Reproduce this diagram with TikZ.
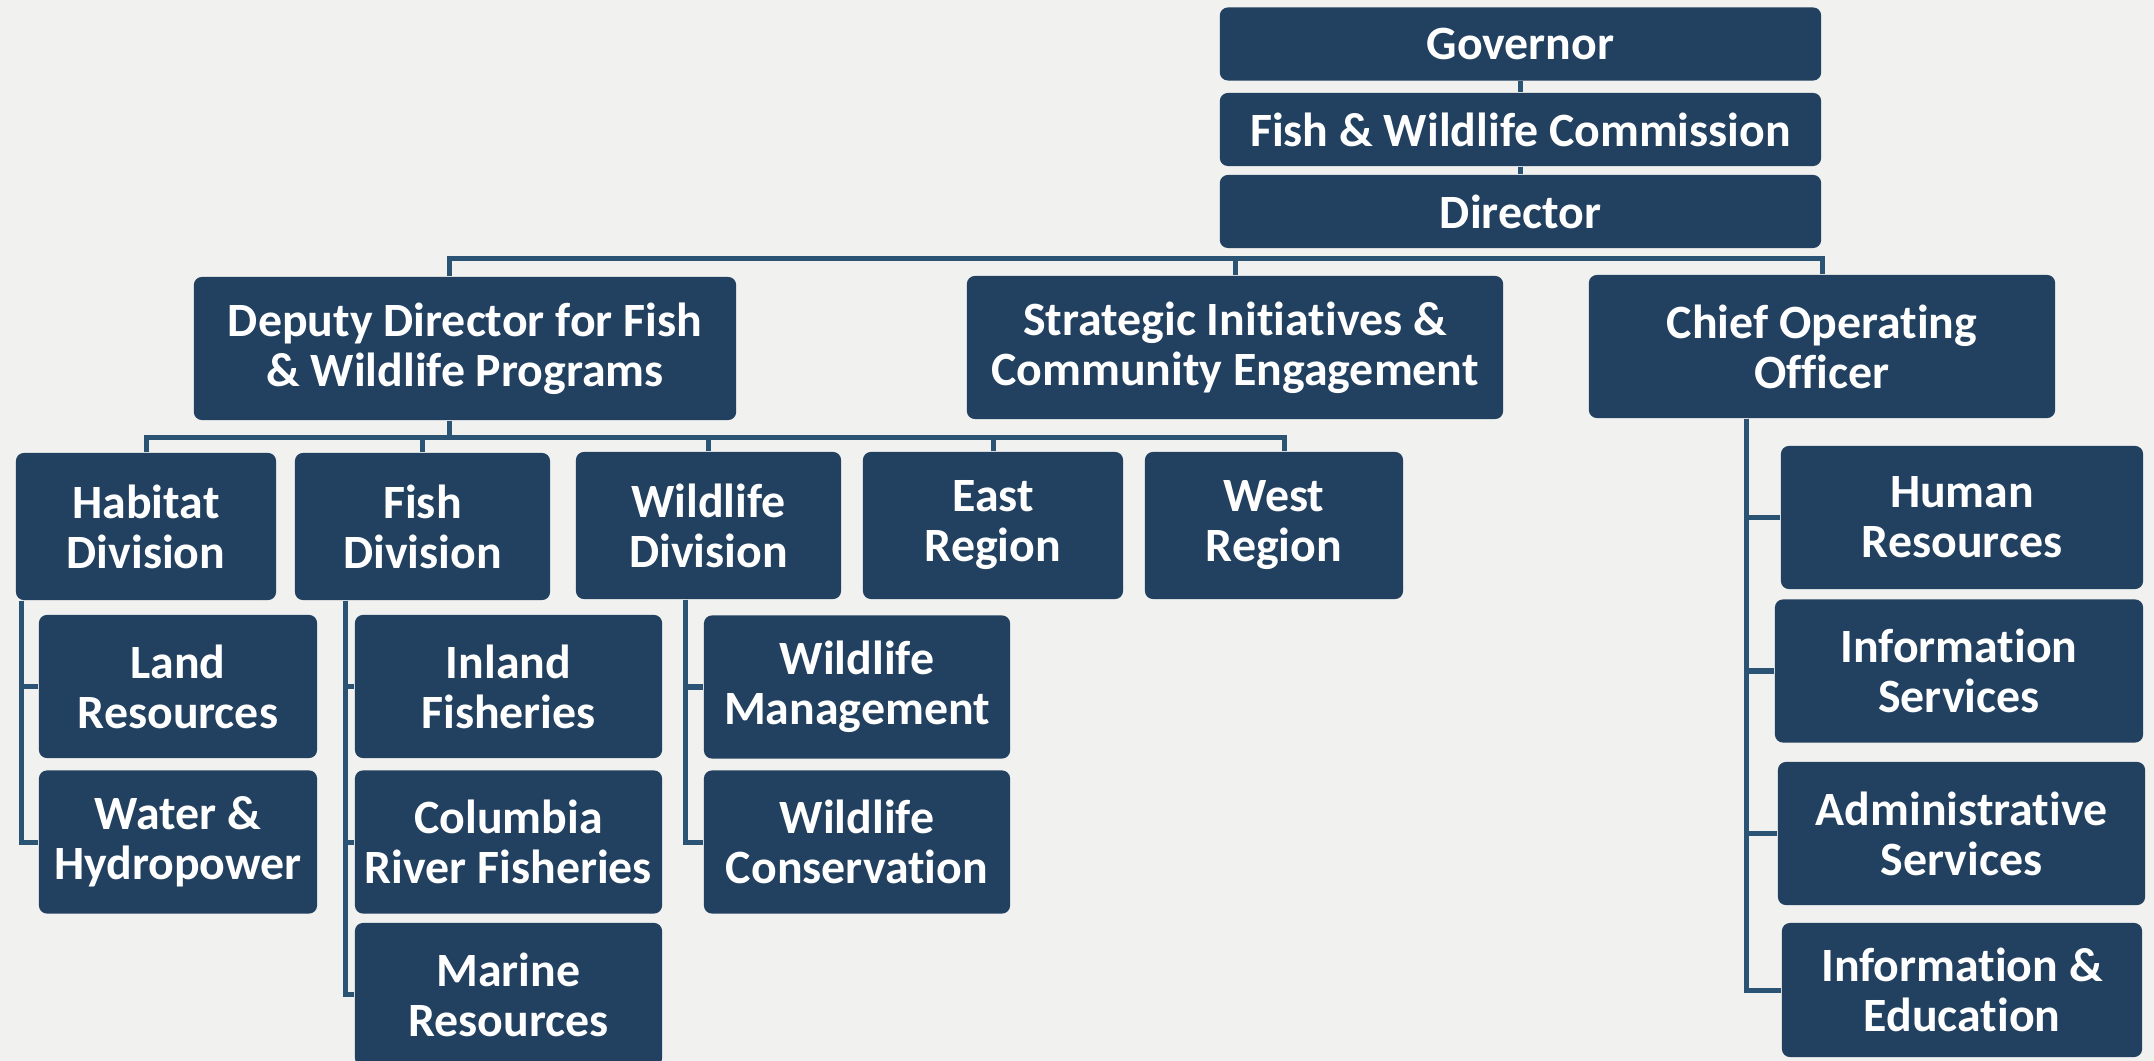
\documentclass[tikz,border=0pt]{standalone}
\usepackage{fontspec}
\setmainfont{Carlito}[Ligatures=NoCommon]
\usepackage{tikz}
\definecolor{paper}{HTML}{F1F1F0}
\definecolor{boxblue}{HTML}{22405F}
\definecolor{lineblue}{HTML}{2B5374}
\newcommand{\orgfont}{\bfseries\fontsize{13.6pt}{14.2pt}\selectfont}
\tikzset{
box/.style={
  rectangle,
  rounded corners=0.08cm,
  fill=boxblue,
  text=white,
  font=\orgfont,
  align=center,
  inner sep=0pt,
  minimum height=1.43cm
},
thin box/.style={box, minimum height=0.73cm},
tall box/.style={box, minimum height=1.47cm},
conn/.style={draw=lineblue, line width=0.05cm}
}

\begin{document}
\begin{tikzpicture}[x=0.01cm,y=-0.01cm]
\useasboundingbox (0,0) rectangle (2154,1061);
\fill[paper] (0,0) rectangle (2154,1061);
% top of the chart
\node[thin box, minimum width=6.01cm] (gov)  at (1520.5,44)    {Governor};
\node[thin box, minimum width=6.01cm] (comm) at (1520.5,129.5) {Fish \& Wildlife Commission};
\node[thin box, minimum width=6.01cm] (dir)  at (1520.5,211.5) {Director};
% second row
\node[box, minimum width=5.42cm] (deputy) at (465,348.5)  {Deputy Director for Fish\\\& Wildlife Programs};
\node[box, minimum width=5.36cm] (strat)  at (1235,347.5) {Strategic Initiatives \&\\Community Engagement};
\node[box, minimum width=4.66cm] (coo)    at (1822,346.5) {Chief Operating\\Officer};
% divisions and regions
\node[tall box, minimum width=2.60cm] (habitat) at (146,526.5)   {Habitat\\Division};
\node[tall box, minimum width=2.55cm] (fishdiv) at (422.5,526.5) {Fish\\Division};
\node[tall box, minimum width=2.65cm] (wilddiv) at (708.5,525.5) {Wildlife\\Division};
\node[tall box, minimum width=2.60cm] (east)    at (993,525.5)   {East\\Region};
\node[tall box, minimum width=2.58cm] (west)    at (1274,525.5)  {West\\Region};
% programs
\node[box, minimum width=2.78cm] (land)     at (178,686.5)   {Land\\Resources};
\node[box, minimum width=2.78cm] (water)    at (178,842)     {Water \&\\Hydropower};
\node[box, minimum width=3.07cm] (inland)   at (508.5,686.5) {Inland\\Fisheries};
\node[box, minimum width=3.07cm] (columbia) at (508.5,842)   {Columbia\\River Fisheries};
\node[box, minimum width=3.07cm] (marine)   at (508.5,994.5) {Marine\\Resources};
\node[box, minimum width=3.06cm] (wmgmt)    at (857,687)     {Wildlife\\Management};
\node[box, minimum width=3.06cm] (wcons)    at (857,842)     {Wildlife\\Conservation};
% operations
\node[box, minimum width=3.62cm] (hr)      at (1962,517.5)  {Human\\Resources};
\node[box, minimum width=3.68cm] (infosvc) at (1959,671)    {Information\\Services};
\node[box, minimum width=3.67cm] (admin)   at (1961.5,833.5) {Administrative\\Services};
\node[box, minimum width=3.60cm, minimum height=1.34cm] (infoedu) at (1962,990) {Information \&\\Education};
% the connectors
\draw[conn] (gov) -- (comm);
\draw[conn] (comm) -- (dir);
\coordinate (topbus) at ([yshift=-0.095cm]dir.south);
\draw[conn] ([xshift=-0.15cm]deputy.north) |- (topbus);
\foreach \n in {strat,coo}
{
  \draw[conn] (\n.north) |- (topbus);
}
\coordinate (midbus) at ([xshift=-0.15cm,yshift=-0.17cm]deputy.south);
\draw[conn] ([xshift=-0.15cm]deputy.south) -- (midbus);
\draw[conn] ([xshift=0.1cm]west.north) |- (midbus);
\foreach \n in {habitat,fishdiv,wilddiv,east}
{
  \draw[conn] (\n.north) |- (midbus);
}
\foreach \c in {land,water}
  \draw[conn] ([xshift=0.06cm]habitat.south west) |- (\c.west);
\foreach \c in {inland,columbia,marine}
  \draw[conn] ([xshift=0.51cm]fishdiv.south west) |- (\c.west);
\foreach \c in {wmgmt,wcons}
  \draw[conn] ([xshift=1.10cm]wilddiv.south west) |- (\c.west);
\foreach \c in {hr,infosvc,admin,infoedu}
  \draw[conn] ([xshift=1.58cm]coo.south west) |- (\c.west);
\end{tikzpicture}
\end{document}
